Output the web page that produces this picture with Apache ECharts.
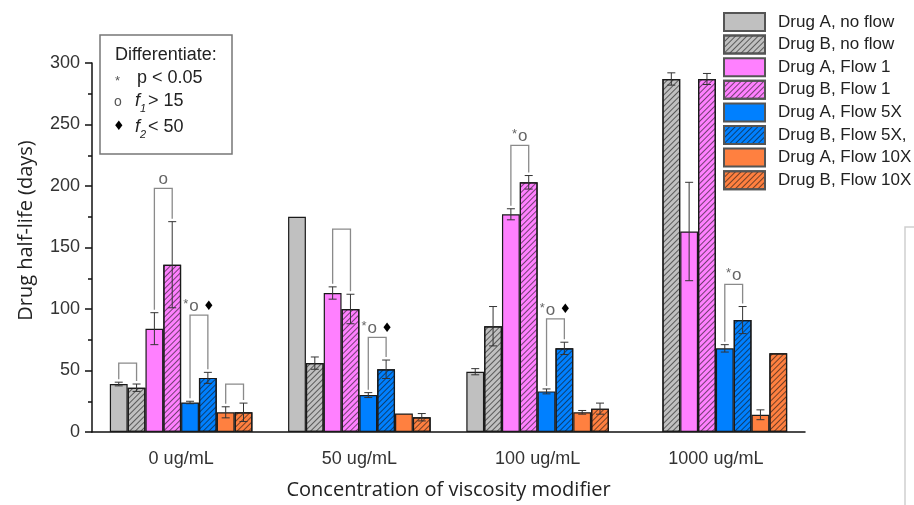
<!DOCTYPE html>
<html>
<head>
<meta charset="utf-8">
<script src="https://cdn.jsdelivr.net/npm/echarts@6/dist/echarts.min.js"></script>
<style>html,body{margin:0;padding:0;background:#fff;}#c{width:914px;height:505px;}</style>
</head>
<body>
<div id="c"></div>
<script>
// ---- data ----
const categories = ['0 ug/mL', '50 ug/mL', '100 ug/mL', '1000 ug/mL'];
const seriesNames = ['Drug A, no flow', 'Drug B, no flow', 'Drug A, Flow 1', 'Drug B, Flow 1',
  'Drug A, Flow 5X', 'Drug B, Flow 5X,', 'Drug A, Flow 10X', 'Drug B, Flow 10X'];
const drugANoFlow   = [39, 175, 49, null];
const drugBNoFlow   = [36, 56, 86, 287];
const drugAFlow1    = [84, 113, 177, 163];
const drugBFlow1    = [136, 100, 203, 287];
const drugAFlow5X   = [24, 30, 33, 68];
const drugBFlow5X   = [44, 51, 68, 91];
const drugAFlow10X  = [16, 15, 16, 14];
const drugBFlow10X  = [16, 12, 19, 64];
const errANoFlow    = [1.5, 0, 2.5, null];
const errBNoFlow    = [3, 5, 16, 5];
const errAFlow1     = [13, 5, 4.5, 40];
const errBFlow1     = [35, 12, 5.5, 4.5];
const errAFlow5X    = [1, 2, 2, 3];
const errBFlow5X    = [4.5, 7.5, 5, 11];
const errAFlow10X   = [4.5, 0, 1.5, 4];
const errBFlow10X   = [7.5, 3, 4.5, 0];
// significance brackets: [category, seriesA, seriesB, bracket top value, label]
const brackets = [
  [0, 0, 1, 56, ''], [0, 2, 3, 198, 'o'], [0, 4, 5, 95, '*o♦'], [0, 6, 7, 39, ''],
  [1, 2, 3, 165, ''], [1, 4, 5, 77, '*o♦'],
  [2, 2, 3, 233, '*o'], [2, 4, 5, 92, '*o♦'],
  [3, 4, 5, 120, '*o']
];
const yTicks = [0, 50, 100, 150, 200, 250, 300];

// ---- build ----
const values = [drugANoFlow, drugBNoFlow, drugAFlow1, drugBFlow1, drugAFlow5X, drugBFlow5X, drugAFlow10X, drugBFlow10X];
const errors = [errANoFlow, errBNoFlow, errAFlow1, errBFlow1, errAFlow5X, errBFlow5X, errAFlow10X, errBFlow10X];
const colors = ['#c0c0c0', '#c0c0c0', '#ff80ff', '#ff80ff', '#0080ff', '#0080ff', '#ff8040', '#ff8040'];
const FONT = '"Liberation Sans", Arial, sans-serif';
const hatch = {
  symbol: 'rect', symbolSize: 1, dashArrayX: [1, 0], dashArrayY: [1, 3],
  rotation: -Math.PI / 4, color: 'rgba(20,20,20,0.6)'
};
const N = seriesNames.length;
function barX(api, cat, s) {
  const c = api.coord([cat, 0])[0];
  const w = api.size([1, 0])[0] * 0.8 / N;
  return c + (s - (N - 1) / 2) * w;
}
const errData = [];
values.forEach((arr, s) => arr.forEach((v, c) => {
  if (v != null && errors[s][c]) errData.push([c, s, v, errors[s][c]]);
}));
const tops = (s, c) => values[s][c] + (errors[s][c] || 0);

const barSeries = seriesNames.map((name, s) => ({
  name, type: 'bar', data: values[s], barGap: '0%', barCategoryGap: '20%',
  itemStyle: Object.assign({ color: colors[s], borderColor: '#1a1a1a', borderWidth: 1.2 },
    s % 2 === 1 ? { decal: hatch } : {}),
  emphasis: { disabled: true }
}));

const option = {
  animation: false,
  grid: { left: 92, right: 109, top: 63, bottom: 69 },
  legend: {
    data: seriesNames, orient: 'vertical', left: 723, top: 12, padding: 0,
    itemWidth: 41, itemHeight: 18, itemGap: 2.6,
    icon: 'rect',
    itemStyle: { borderColor: '#555', borderWidth: 2 },
    textStyle: { fontSize: 17, lineHeight: 18, color: '#222', fontFamily: FONT, padding: [0, 0, 0, 8] },
    selectedMode: false
  },
  xAxis: [{
    type: 'category', data: categories,
    name: 'Concentration of viscosity modifier', nameLocation: 'middle', nameGap: 48,
    nameTextStyle: { fontSize: 20, color: '#222', fontFamily: '"Open Sans", sans-serif' },
    axisLine: { lineStyle: { color: '#111', width: 1.5 } },
    axisTick: { alignWithLabel: true, length: 7, lineStyle: { color: '#111', width: 1.5 } },
    axisLabel: { fontSize: 18, color: '#333', fontFamily: FONT, margin: 18 }
  }, {
    type: 'category', data: categories, position: 'bottom',
    axisLine: { show: false },
    axisTick: { alignWithLabel: false, length: 4, lineStyle: { color: '#111', width: 1.5 } },
    axisLabel: { show: false }
  }],
  yAxis: {
    type: 'value', min: 0, max: 300, interval: 50,
    name: 'Drug half-life (days)', nameLocation: 'middle', nameGap: 56,
    nameTextStyle: { fontSize: 20, color: '#222', fontFamily: '"Open Sans", sans-serif', padding: [0, 0, 0, 34] },
    axisLine: { show: true, lineStyle: { color: '#111', width: 1.5 } },
    axisTick: { show: true, length: 7, lineStyle: { color: '#111', width: 1.5 } },
    minorTick: { show: true, splitNumber: 2, length: 4, lineStyle: { color: '#111', width: 1.5 } },
    splitLine: { show: false },
    axisLabel: { fontSize: 18, color: '#333', fontFamily: FONT, margin: 12,
      formatter: v => yTicks.includes(v) ? String(v) : '' }
  },
  series: barSeries.concat([{
    type: 'custom', name: 'err', data: errData, encode: { x: 0, y: 2 }, z: 5,
    renderItem(params, api) {
      const c = api.value(0), s = api.value(1), v = api.value(2), e = api.value(3);
      const x = barX(api, c, s);
      const y1 = api.coord([c, v + e])[1], y2 = api.coord([c, v - e])[1];
      const st = { stroke: '#333', lineWidth: 1 };
      return { type: 'group', children: [
        { type: 'line', shape: { x1: x, y1, x2: x, y2 }, style: st },
        { type: 'line', shape: { x1: x - 4, y1, x2: x + 4, y2: y1 }, style: st },
        { type: 'line', shape: { x1: x - 4, y1: y2, x2: x + 4, y2 }, style: st }
      ] };
    }
  }, {
    type: 'custom', name: 'brackets', data: brackets.map(b => [b[0], b[1], b[2], b[3]]), encode: { x: 0, y: 3 }, z: 6,
    renderItem(params, api) {
      const b = brackets[params.dataIndex];
      const c = b[0], sa = b[1], sb = b[2];
      const xa = barX(api, c, sa), xb = barX(api, c, sb);
      const yt = api.coord([c, b[3]])[1];
      const ya = api.coord([c, tops(sa, c)])[1] - 3;
      const yb = api.coord([c, tops(sb, c)])[1] - 3;
      const children = [{ type: 'polyline', shape: { points: [[xa, ya], [xa, yt], [xb, yt], [xb, yb]] },
        style: { stroke: '#8a8a8a', lineWidth: 1.3, fill: null } }];
      if (b[4]) {
        const txt = b[4].split('').map(ch => ch === '*' ? '{s|*}' : ch === 'o' ? '{o|o}' : '{d| ♦}').join('');
        children.push({ type: 'text', x: (xa + xb) / 2, y: yt - 9,
          style: { text: txt, align: 'center', verticalAlign: 'middle',
            rich: {
              s: { fontSize: 13, fill: '#666', fontFamily: FONT, padding: [0, 1, 3, 0] },
              o: { fontSize: 17, fill: '#666', fontFamily: FONT },
              d: { fontSize: 13, fill: '#000', fontFamily: '"DejaVu Sans", sans-serif' }
            } } });
      }
      return { type: 'group', children };
    }
  }]),
  graphic: [
    { type: 'rect', shape: { x: 100, y: 35, width: 132, height: 119 },
      style: { fill: '#fff', stroke: '#777', lineWidth: 1.5 }, z: 10 },
    { type: 'text', x: 115, y: 55, style: { text: 'Differentiate:', fontSize: 18, fill: '#222', fontFamily: FONT, verticalAlign: 'middle' }, z: 11 },
    { type: 'text', x: 115, y: 81, style: { text: '*', fontSize: 13, fill: '#555', fontFamily: FONT, verticalAlign: 'middle' }, z: 11 },
    { type: 'text', x: 137, y: 78, style: { text: 'p < 0.05', fontSize: 18, fill: '#222', fontFamily: FONT, verticalAlign: 'middle' }, z: 11 },
    { type: 'text', x: 114, y: 102, style: { text: 'o', fontSize: 14, fill: '#555', fontFamily: FONT, verticalAlign: 'middle' }, z: 11 },
    { type: 'text', x: 135, y: 101, style: { text: 'f', fontSize: 18, fontStyle: 'italic', fill: '#222', fontFamily: FONT, verticalAlign: 'middle' }, z: 11 },
    { type: 'text', x: 140, y: 109, style: { text: '1', fontSize: 11, fontStyle: 'italic', fill: '#222', fontFamily: FONT, verticalAlign: 'middle' }, z: 11 },
    { type: 'text', x: 148, y: 101, style: { text: '> 15', fontSize: 18, fill: '#222', fontFamily: FONT, verticalAlign: 'middle' }, z: 11 },
    { type: 'text', x: 113, y: 127, style: { text: '♦', fontSize: 13, fill: '#000', fontFamily: '"DejaVu Sans", sans-serif', verticalAlign: 'middle' }, z: 11 },
    { type: 'text', x: 135, y: 127, style: { text: 'f', fontSize: 18, fontStyle: 'italic', fill: '#222', fontFamily: FONT, verticalAlign: 'middle' }, z: 11 },
    { type: 'text', x: 140, y: 135, style: { text: '2', fontSize: 11, fontStyle: 'italic', fill: '#222', fontFamily: FONT, verticalAlign: 'middle' }, z: 11 },
    { type: 'text', x: 148, y: 127, style: { text: '< 50', fontSize: 18, fill: '#222', fontFamily: FONT, verticalAlign: 'middle' }, z: 11 },
    { type: 'polyline', shape: { points: [[914, 227], [905, 227], [905, 505]] },
      style: { stroke: '#cfcfcf', lineWidth: 1.5, fill: null } }
  ]
};
const chart = echarts.init(document.getElementById('c'), null, { renderer: 'canvas' });
chart.setOption(option);
</script>
</body>
</html>
